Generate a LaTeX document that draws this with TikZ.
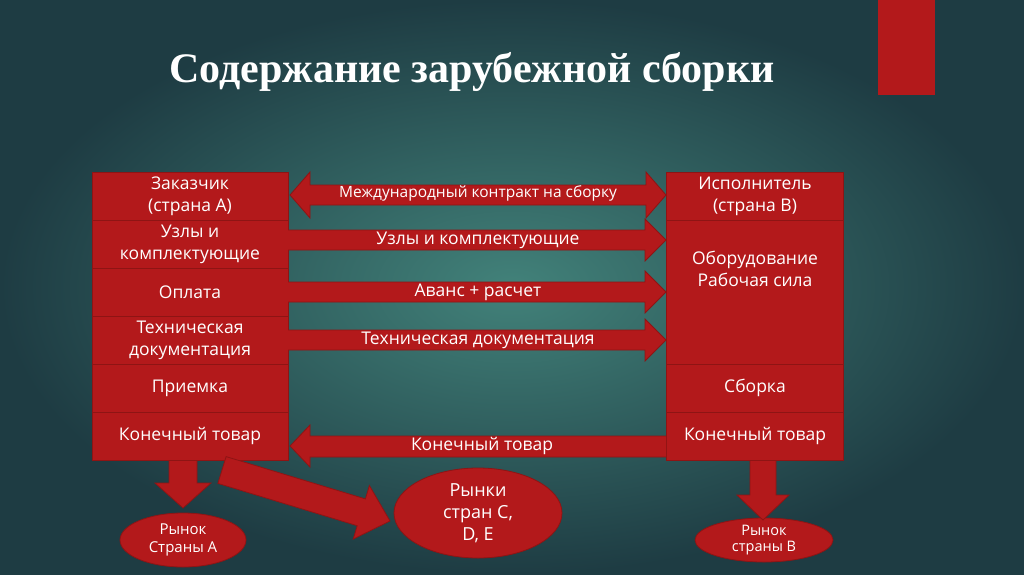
\documentclass[tikz,border=0pt]{standalone}
\usepackage{fontspec}
\setmainfont{Open Sans}
\newfontfamily\titlefont{Liberation Serif}
\usetikzlibrary{shapes.geometric}
\definecolor{rd}{HTML}{B3191B}
\definecolor{rdb}{HTML}{8E1414}
\definecolor{bgin}{HTML}{42827A}
\definecolor{bgout}{HTML}{1E3C43}
\tikzset{
 cell/.style={draw=rdb,fill=rd,line width=0.8pt,text=white,align=center,font=\fontsize{17.5}{22}\selectfont,inner sep=0pt},
 arr/.style={draw=rdb,fill=rd,line width=0.8pt},
 lab/.style={text=white,font=\fontsize{17.5}{21}\selectfont},
 oval/.style={ellipse,draw=rdb,fill=rd,line width=0.8pt,text=white,align=center,inner sep=0pt}
}
\begin{document}
\begin{tikzpicture}[x=1pt,y=-1pt]
\shade[inner color=bgin,outer color=bgout] (0,0) rectangle (1024,574);
\useasboundingbox (0,0) rectangle (1024,574);
\fill[rd] (878,0) rectangle (935,95);
\node[text=white,font=\titlefont\bfseries\fontsize{42}{48}\selectfont] (title) at (472,72) {Содержание зарубежной сборки};
% left column
\node[cell,minimum width=196,minimum height=48] (l1) at (190,196) {Заказчик\\(страна А)};
\node[cell,minimum width=196,minimum height=48] (l2) at (190,244) {Узлы и\\комплектующие};
\node[cell,minimum width=196,minimum height=48] (l3) at (190,292) {Оплата};
\node[cell,minimum width=196,minimum height=48] (l4) at (190,340) {Техническая\\документация};
\node[cell,minimum width=196,minimum height=48] (l5) at (190,388) {Приемка};
\node[cell,minimum width=196,minimum height=48] (l6) at (190,436) {Конечный товар};
% right column
\node[cell,minimum width=177,minimum height=48] (r1) at (755,196) {Исполнитель\\(страна В)};
\node[cell,minimum width=177,minimum height=144] (r2) at (755,292) {Оборудование\\Рабочая сила\\[24pt]};
\node[cell,minimum width=177,minimum height=48] (r3) at (755,388) {Сборка};
\node[cell,minimum width=177,minimum height=48] (r4) at (755,436) {Конечный товар};
% double arrow
\draw[arr] (290,195) -- (310,172) -- (310,185) -- (646,185) -- (646,172) -- (666,195) -- (646,218) -- (646,205) -- (310,205) -- (310,218) -- cycle;
\node[lab,font=\fontsize{15.5}{18}\selectfont] (t1) at (478,193) {Международный контракт на сборку};
% right arrows
\foreach \y/\t/\n in {240/Узлы и комплектующие/t2, 292/Аванс + расчет/t3, 340/Техническая документация/t4}{
 \draw[arr] (288,\y-10) -- (645,\y-10) -- (645,\y-21) -- (666,\y) -- (645,\y+21) -- (645,\y+10) -- (288,\y+10);
 \node[lab] (\n) at (478,\y) {\t};
}
% left arrow
\draw[arr] (666,436) -- (310,436) -- (310,425) -- (290,446) -- (310,467) -- (310,457) -- (666,457);
\node[lab] (t5) at (482,446) {Конечный товар};
% ovals
\node[oval,minimum width=126,minimum height=54,font=\fontsize{15}{18}\selectfont] (mA) at (183,540) {Рынок\\Страны А};
\node[oval,minimum width=168,minimum height=90,font=\fontsize{18}{22}\selectfont] (mC) at (478,513) {Рынки\\стран С,\\D, E};
\node[oval,minimum width=138,minimum height=44,font=\fontsize{14.5}{16}\selectfont] (mB) at (764,540) {Рынок\\страны В};
% down arrows
\draw[arr] (169,461) -- (169,483) -- (155,483) -- (183,508) -- (211,483) -- (197,483) -- (197,461);
\draw[arr] (750,461) -- (750,495) -- (737,495) -- (763,520) -- (789,495) -- (776,495) -- (776,461);
% diagonal arrow
\draw[arr] (226.1,456.6) -- (365.4,498.9) -- (369.4,485.5) -- (390,521) -- (353.2,539.1) -- (357.2,525.7) -- (217.9,483.4) -- cycle;
\end{tikzpicture}
\end{document}
